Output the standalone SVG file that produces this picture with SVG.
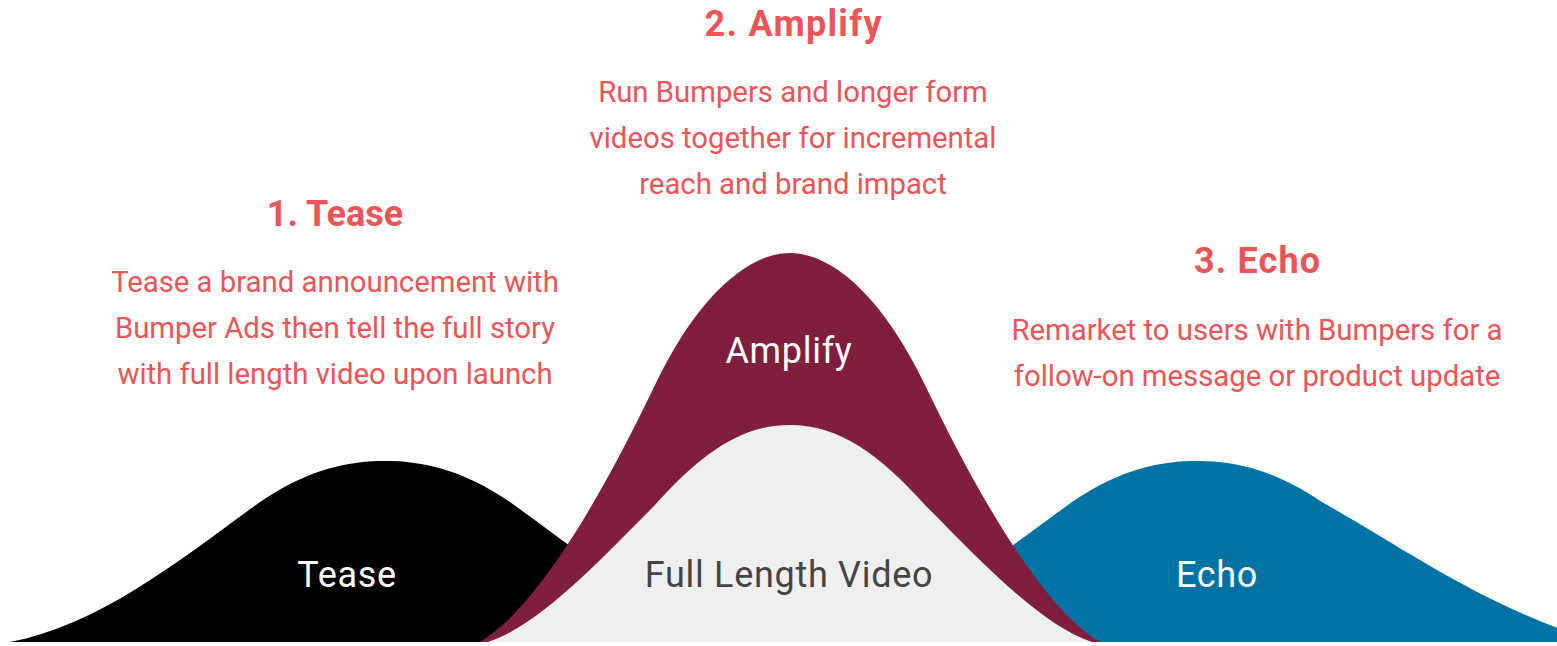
<svg xmlns="http://www.w3.org/2000/svg" width="1557" height="646" viewBox="0 0 1557 646">
<style>
.h{font-family:Roboto,"Liberation Sans",sans-serif;font-weight:700;font-size:36px;fill:#EC5458;text-anchor:middle}
.b{font-family:Roboto,"Liberation Sans",sans-serif;font-weight:400;font-size:29.3px;fill:#EC5458;text-anchor:middle}
.l{font-family:Roboto,"Liberation Sans",sans-serif;font-weight:400;font-size:36px;letter-spacing:0.7px;text-anchor:middle}
</style>
<rect width="1557" height="646" fill="#ffffff"/>
<g id="tease-curve">
<path d="M10,642 C100,625 180,560 260,502 C310,468 350,461 385,461 C420,461 460,468 510,502 C590,560 670,625 760,642 Z" fill="#000000"/>
</g>
<g id="echo-curve">
<path d="M822,642 C912,625 992,560 1072,502 C1122,468 1162,461 1197,461 C1232,461 1272,468 1322,502 C1410,552 1490,610 1600,642 Z" fill="#0073A4"/>
</g>
<g id="amplify-curve">
<path d="M480,642 C535,610 600,500 655,385 C699,293 750,253 790,253 C830,253 881,293 925,385 C980,500 1045,610 1100,642 Z" fill="#801E3E"/>
</g>
<g id="full-length-curve">
<path d="M488,642 C540,625 600,560 655,505 C700,455 740,425 790,425 C840,425 880,455 925,505 C980,560 1040,625 1092,642 Z" fill="#EFEFEF"/>
</g>
<g id="labels">
<text class="l" x="347" y="587" fill="#ffffff">Tease</text>
<text class="l" x="789" y="363" fill="#ffffff">Amplify</text>
<text class="l" x="789" y="587" fill="#444444">Full Length Video</text>
<text class="l" x="1217" y="587" fill="#ffffff">Echo</text>
</g>
<g id="step1">
<text class="h" x="335" y="226">1. Tease</text>
<text class="b" x="335" y="292">Tease a brand announcement with</text>
<text class="b" x="335" y="338">Bumper Ads then tell the full story</text>
<text class="b" x="335" y="384">with full length video upon launch</text>
</g>
<g id="step2">
<text class="h" x="793" y="36" textLength="177">2. Amplify</text>
<text class="b" x="793" y="102">Run Bumpers and longer form</text>
<text class="b" x="793" y="148">videos together for incremental</text>
<text class="b" x="793" y="194">reach and brand impact</text>
</g>
<g id="step3">
<text class="h" x="1257" y="273" textLength="126">3. Echo</text>
<text class="b" x="1257" y="340">Remarket to users with Bumpers for a</text>
<text class="b" x="1257" y="386">follow-on message or product update</text>
</g>
<g id="connectors"></g>
</svg>
